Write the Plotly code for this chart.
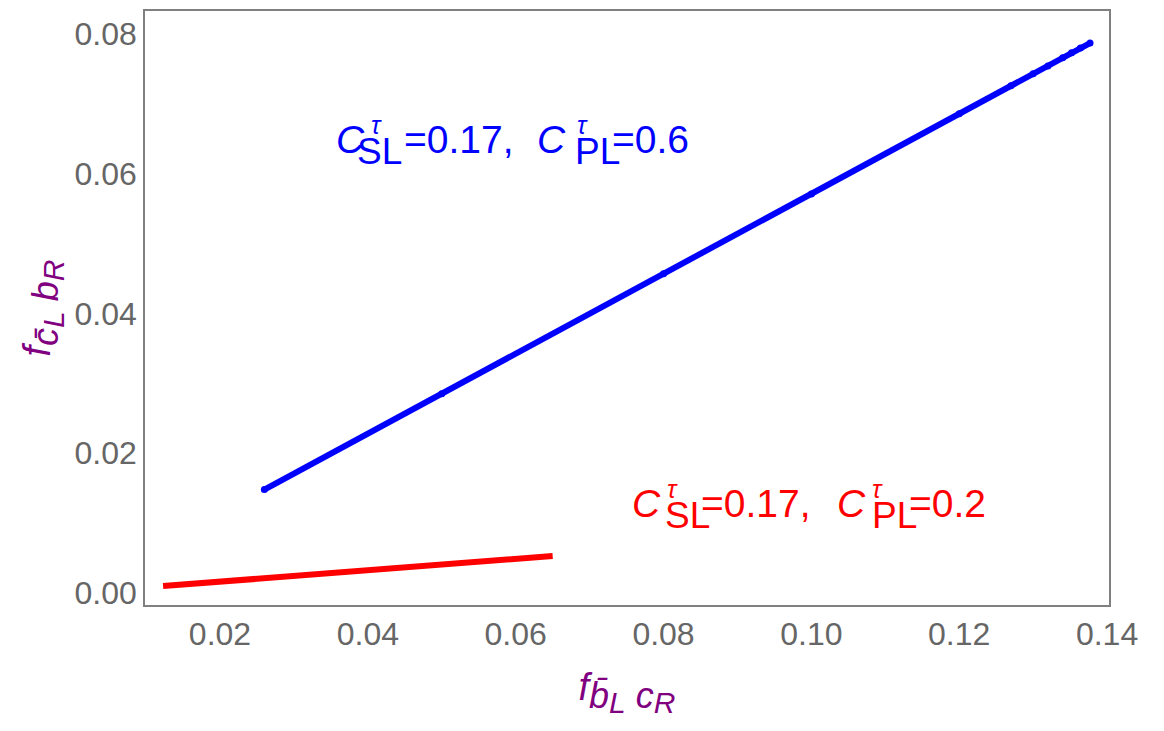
import plotly.graph_objects as go

# Data
blue_x = [0.0260, 0.0500, 0.0800, 0.1000, 0.1200, 0.1270, 0.1300, 0.1320, 0.1340, 0.1352, 0.1364, 0.1377]
blue_y = [0.0148, 0.0285, 0.0457, 0.0571, 0.0686, 0.0726, 0.0743, 0.0754, 0.0766, 0.0773, 0.0780, 0.0787]
red_x = [0.0123, 0.0300, 0.0500, 0.0650]
red_y = [0.0010, 0.0024, 0.0041, 0.0053]

x_ticks = [0.02, 0.04, 0.06, 0.08, 0.10, 0.12, 0.14]
y_ticks = [0.00, 0.02, 0.04, 0.06, 0.08]

# label pieces: (text, left pixel, vertical pixel center, font size)
blue_label = [("<i>C</i>", 335, 138, 39), ("SL", 356, 150, 37), ("=0.17,", 403, 138, 39),
              ("<i>C</i>", 536, 138, 39), ("PL", 574, 150, 37), ("=0.6", 611, 138, 39),
              ("<i>τ</i>", 370, 123, 25), ("<i>τ</i>", 576, 123, 25)]
red_label = [("<i>C</i>", 631, 503, 39), ("SL", 664, 515, 37), ("=0.17,", 700, 503, 39),
             ("<i>C</i>", 836, 503, 39), ("PL", 871, 515, 37), ("=0.2", 908, 503, 39),
             ("<i>τ</i>", 666, 489, 25), ("<i>τ</i>", 871, 489, 25)]

FONT = "Liberation Sans, Arial, Helvetica, sans-serif"
PURPLE = "#800080"
BLUE = "#0000FF"
RED = "#FF0000"

fig = go.Figure()
fig.add_trace(go.Scatter(x=blue_x, y=blue_y, mode="lines+markers",
                         line=dict(color=BLUE, width=6),
                         marker=dict(color=BLUE, size=7), hoverinfo="skip"))
fig.add_trace(go.Scatter(x=red_x, y=red_y, mode="lines",
                         line=dict(color=RED, width=6), hoverinfo="skip"))

def px2x(px):
    return 0.02 + (px - 220) / 7392.0

def px2y(py):
    return (593 - py) / 7012.0

ann = []
for pieces, col in [(blue_label, BLUE), (red_label, RED)]:
    for txt, sx, sy, fs in pieces:
        ann.append(dict(x=px2x(sx), y=px2y(sy), text=txt, showarrow=False,
                        xanchor="left", yanchor="middle", borderpad=0,
                        font=dict(family=FONT, size=fs, color=col)))

def title_text(a, b, c, d):
    return ("<i>f</i><sub><span style='font-size:36px'><i>%s</i></span>"
            "<sub><span style='font-size:30px'><i>%s</i></span></sub>"
            "<span style='font-size:36px'> <i>%s</i></span>"
            "<sub><span style='font-size:30px'><i>%s</i></span></sub></sub>") % (a, b, c, d)

fig.update_layout(
    width=1156, height=723,
    margin=dict(l=137, r=55, t=1, b=126),
    paper_bgcolor="white", plot_bgcolor="white",
    showlegend=False,
    annotations=ann,
    font=dict(family=FONT),
    xaxis=dict(range=[px2x(145), px2x(1109)], tickvals=x_ticks,
               ticktext=["%.2f" % v for v in x_ticks],
               showgrid=False, zeroline=False, showline=True, mirror=True,
               linecolor="#808080", linewidth=1.5, ticks="",
               tickfont=dict(family=FONT, size=32, color="#666666"),
               title=dict(text=title_text("b̄", "L", "c", "R"),
                          font=dict(family=FONT, size=38, color=PURPLE), standoff=22)),
    yaxis=dict(range=[px2y(605), px2y(9)], tickvals=y_ticks,
               ticktext=["%.2f" % v for v in y_ticks],
               showgrid=False, zeroline=False, showline=True, mirror=True,
               linecolor="#808080", linewidth=1.5, ticks="",
               tickfont=dict(family=FONT, size=32, color="#666666"),
               title=dict(text=title_text("c̄", "L", "b", "R"),
                          font=dict(family=FONT, size=38, color=PURPLE), standoff=12)),
)

fig.write_html("out.html")
